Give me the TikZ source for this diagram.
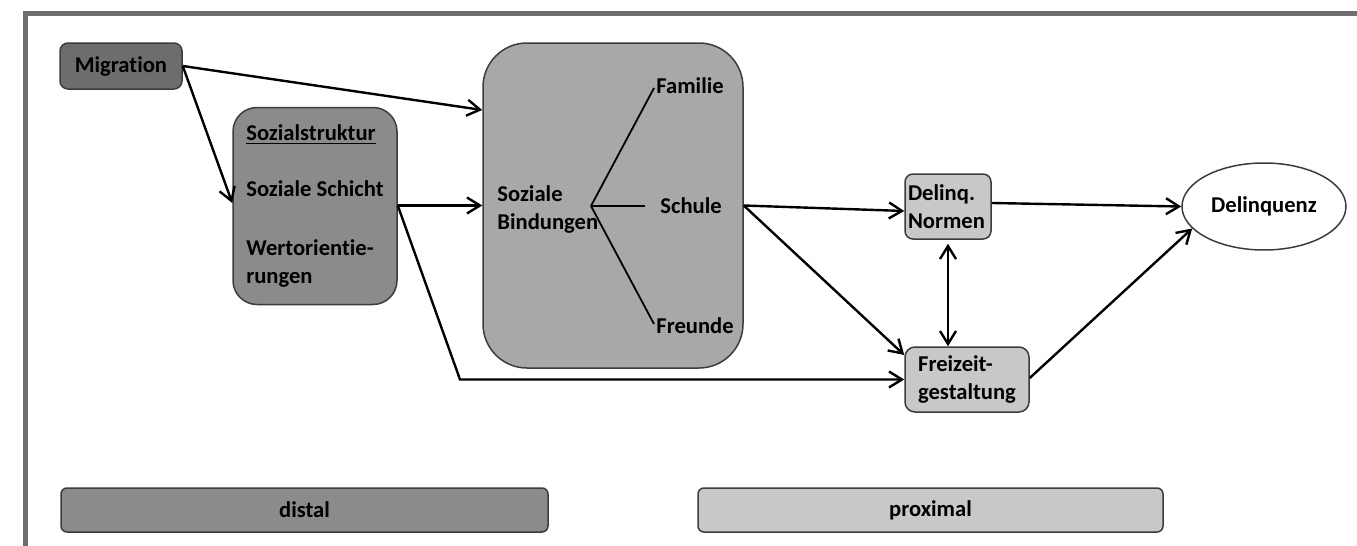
\documentclass[tikz,border=0pt]{standalone}
\usepackage{fontspec}
\setmainfont{Carlito}[Ligatures=NoCommon]
\usetikzlibrary{arrows.meta,shapes.geometric}

\definecolor{rahmen}{HTML}{6E6E6E}
\definecolor{kante}{HTML}{3C3C3C}
\definecolor{dunkel}{HTML}{6D6D6D}
\definecolor{mittel}{HTML}{8B8B8B}
\definecolor{hell}{HTML}{A8A8A8}
\definecolor{ganzhell}{HTML}{C8C8C8}

\tikzset{
  box/.style={draw=kante,line width=0.75pt,inner sep=0pt},
  arr/.style={-{Straight Barb[length=6.5pt,width=8pt]},line width=1.2pt},
  darr/.style={{Straight Barb[length=6.5pt,width=8pt]}-{Straight Barb[length=6.5pt,width=8pt]},line width=1.2pt},
  zweig/.style={line width=0.9pt},
}

\begin{document}
\begin{tikzpicture}[x=0.5pt,y=-0.5pt,font=\fontsize{11.3}{14}\selectfont\bfseries]

\useasboundingbox (0,0) rectangle (1357,546);
\draw[rahmen,line width=2.5pt] (1357,13.5) -- (25.5,13.5) -- (25.5,546);

% distale Faktoren
\node[box,fill=dunkel,rounded corners=4pt,minimum width=61pt,minimum height=23pt] (migr) at (121,66) {Migration};
\node[box,fill=mittel,rounded corners=12pt,minimum width=82pt,minimum height=98.5pt,
  align=left] (sozstr) at (315,206)
  {\underline{Sozialstruktur}\\[14pt]Soziale Schicht\\[15.5pt]Wertorientie-\\rungen};

% soziale Bindungen
\node[box,fill=hell,rounded corners=22pt,minimum width=130pt,minimum height=162.5pt] (bind) at (613,205.5) {};
\node[align=left,anchor=west,inner sep=0pt] (bindtxt) at (497,209.5) {Soziale\\Bindungen};
\coordinate (ast) at (591,206);
\node[anchor=west,inner sep=0pt] (familie) at (656,86) {Familie};
\node[anchor=west,inner sep=0pt] (schule) at (660,206) {Schule};
\node[anchor=west,inner sep=0pt] (freunde) at (656,326) {Freunde};

\draw[zweig] (ast) -- ([xshift=-1pt,yshift=-1pt]familie.west);
\draw[zweig] (ast) -- ([xshift=-7.5pt]schule.west);
\draw[zweig] (ast) -- ([xshift=-1pt,yshift=1pt]freunde.west);

% proximale Faktoren
\node[box,fill=ganzhell,rounded corners=4pt,minimum width=43pt,minimum height=32.5pt,
  align=left,text width=40pt] (normen) at (948,206.5) {Delinq.\\Normen};
\node[box,fill=ganzhell,rounded corners=5pt,minimum width=62pt,minimum height=32.5pt,
  align=left] (freizeit) at (967,379.5) {Freizeit-\\gestaltung};

\node[draw=kante,line width=0.75pt,ellipse,fill=white,inner sep=0pt,
  minimum width=82pt,minimum height=43.5pt] (delinq) at (1264,206.5) {Delinquenz};

% Pfeile
\coordinate (knick) at (460,379.5);

\draw[arr] (migr.east) -- (bind.west |- 0,110);
\draw[arr] (migr.east) -- (sozstr.west |- 0,203);
\draw[arr] (sozstr.east |- bind.west) -- (bind.west);
\draw[arr] (sozstr.east |- bind.west) -- (knick) -- (freizeit.west);
\draw[arr] (bind.east) -- (normen.west |- 0,211);
\draw[arr] (bind.east) -- (freizeit.west |- 0,355);
\draw[darr] ([yshift=-2pt]normen.south) -- (normen.south |- freizeit.north);
\draw[arr] (normen.east |- 0,203) -- (delinq.west);
\draw[arr] (freizeit.east |- 0,378) -- (delinq.197);

% Legende
\node[box,fill=mittel,rounded corners=3pt,minimum width=243.5pt,minimum height=22pt] (distal) at (304.5,510) {distal};
\node[box,fill=ganzhell,rounded corners=3pt,minimum width=232.5pt,minimum height=22pt] (proximal) at (930.5,510) {proximal};

\end{tikzpicture}
\end{document}
